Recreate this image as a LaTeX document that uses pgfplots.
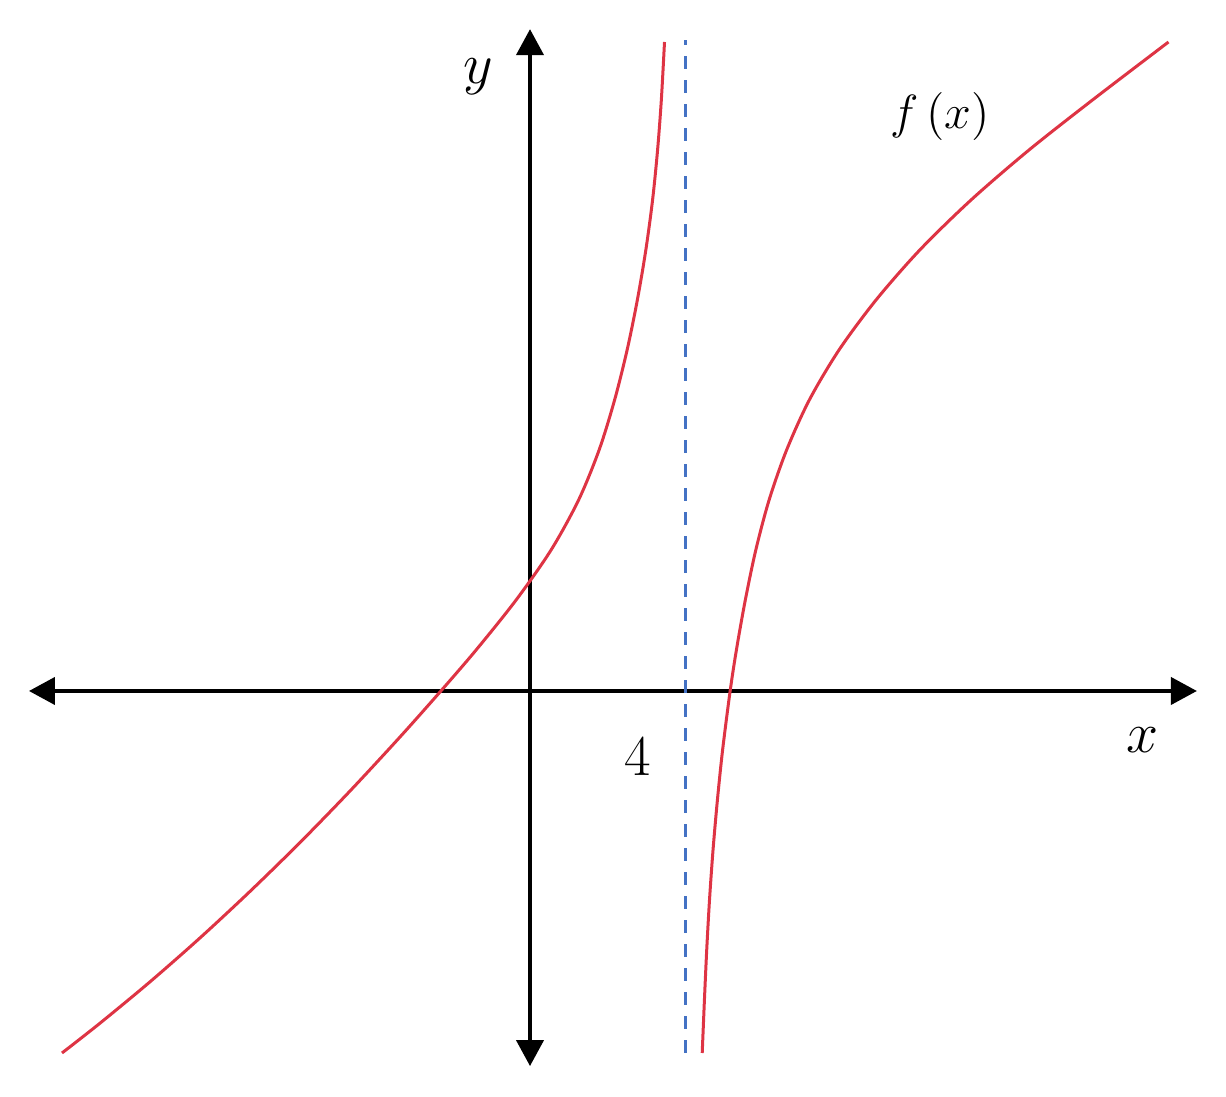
\documentclass[border=0pt]{standalone}
\usepackage{pgfplots}
\pgfplotsset{compat=1.18}
\usetikzlibrary{arrows.meta}
\definecolor{curvered}{RGB}{222,52,68}
\definecolor{asymblue}{RGB}{68,114,196}
\begin{document}
\begin{tikzpicture}
\begin{axis}[
  scale only axis,
  width=367.8pt, height=328.8pt,
  xmin=-13.677, xmax=17.961,
  ymin=-10.452, ymax=17.832,
  hide axis,
  clip=false,
]
\path (rel axis cs:0,0) rectangle (rel axis cs:1,1);
% axes
\draw[line width=1.2pt, {Triangle[length=7.8pt,width=8.1pt]}-{Triangle[length=7.8pt,width=8.1pt]}]
  (axis cs:-12.93,0) -- (axis cs:17.21,0);
\draw[line width=1.2pt, {Triangle[length=7.8pt,width=8.1pt]}-{Triangle[length=7.8pt,width=8.1pt]}]
  (axis cs:0,-9.68) -- (axis cs:0,17.08);
% asymptote
\addplot[asymblue, line width=0.9pt, dash pattern=on 3.9pt off 3.3pt] coordinates {(4,-9.34) (4,16.8)};
% left branch
\addplot[curvered, line width=0.9pt, smooth, tension=0.5] coordinates {
(-12.077,-9.342) (-11.097,-8.573) (-9.806,-7.505) (-8.516,-6.372) (-7.226,-5.172)
(-5.935,-3.910) (-4.645,-2.581) (-3.355,-1.187) (-2.323,-0.026) (-1.391,1.058)
(-0.359,2.348) (0.544,3.639) (1.254,4.929) (1.783,6.219) (2.183,7.510)
(2.506,8.800) (2.770,10.090) (2.989,11.381) (3.163,12.671) (3.292,13.961)
(3.389,15.252) (3.471,16.748)
};
% right branch
\addplot[curvered, line width=0.9pt, smooth, tension=0.5] coordinates {
(4.444,-9.342) (4.501,-7.974) (4.560,-6.684) (4.632,-5.394) (4.723,-4.103)
(4.836,-2.813) (4.970,-1.523) (5.161,-0.026) (5.326,1.058) (5.556,2.348)
(5.827,3.639) (6.170,4.929) (6.622,6.219) (7.208,7.510) (7.974,8.800)
(8.929,10.090) (10.059,11.381) (11.381,12.671) (12.877,13.961) (14.516,15.252)
(16.477,16.748)
};
\node[font=\fontsize{16}{19}\selectfont] at (axis cs:-1.342,15.845) {$y$};
\node[font=\fontsize{16}{19}\selectfont] at (axis cs:15.819,-1.265) {$x$};
\node[font=\fontsize{16}{19}\selectfont] at (axis cs:2.787,-1.703) {$4$};
\node[font=\fontsize{15}{18}\selectfont] at (axis cs:10.581,14.813) {$f\,(x)$};
\end{axis}
\end{tikzpicture}
\end{document}
